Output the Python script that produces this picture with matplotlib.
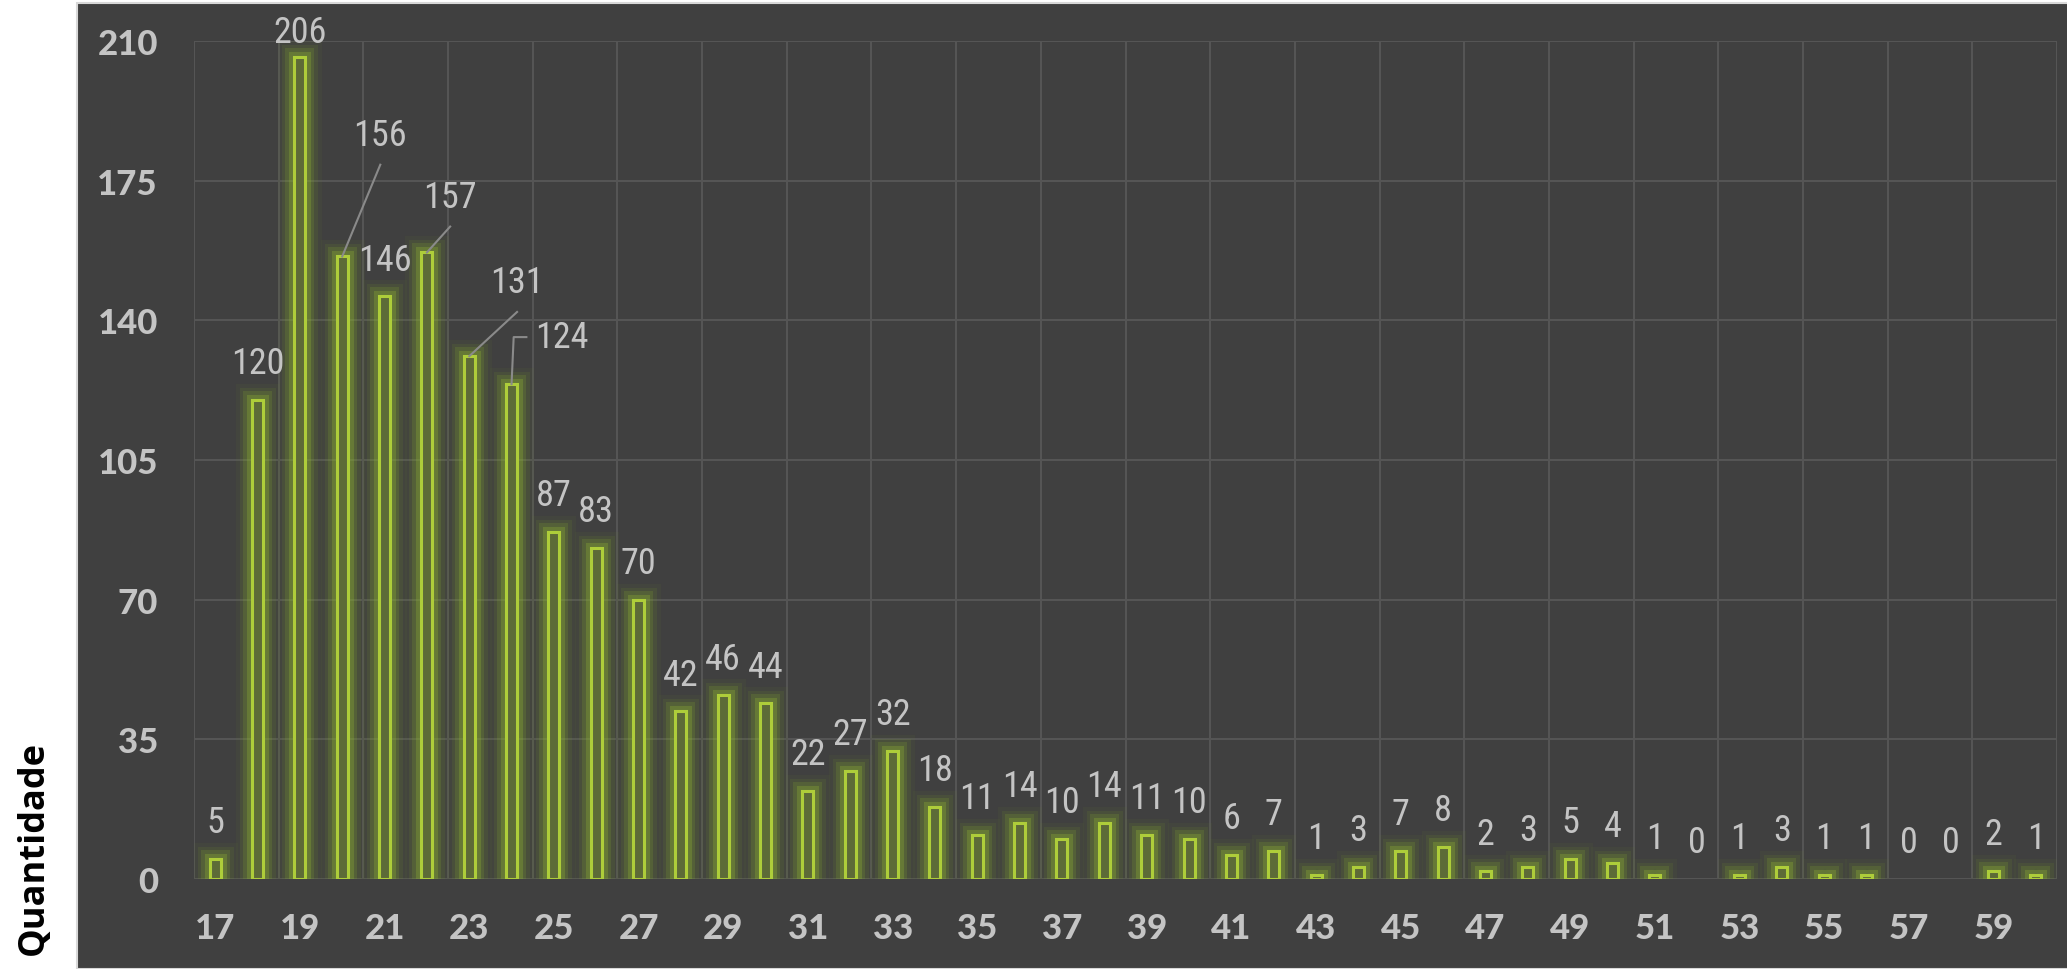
import matplotlib
matplotlib.use("Agg")
import matplotlib.pyplot as plt
import matplotlib.patheffects as pe
from matplotlib.patches import Rectangle
from matplotlib import font_manager
import numpy as np

# idade vs quantidade
ages = list(range(17, 61))
counts = [5, 120, 206, 156, 146, 157, 131, 124, 87, 83, 70, 42, 46, 44, 22, 27, 32, 18,
          11, 14, 10, 14, 11, 10, 6, 7, 1, 3, 7, 8, 2, 3, 5, 4, 1, 0, 1, 3, 1, 1, 0, 0, 2, 1]
y_ticks = [0, 35, 70, 105, 140, 175, 210]
x_ticks = list(range(17, 61, 2))

# labels that were moved off the bar, with leader lines: age -> (label x, label y)
moved = {20: (20.9, 186.5), 22: (22.55, 171.0), 23: (24.13, 149.6), 24: (25.2, 135.8)}

BG = '#404040'
GRID = '#555555'
TXT = '#c4c4c4'
EDGE = '#aecd3a'
FILL = '#5d6b37'


def pick(cands, min_weight=0):
    have = set(f.name for f in font_manager.fontManager.ttflist
               if min_weight == 0 or (isinstance(f.weight, int) and f.weight >= min_weight))
    out = [c for c in cands if c in have]
    return out[:1] + ['DejaVu Sans']


tick_font = pick(['Lato Black', 'Roboto Black', 'Lato', 'Roboto', 'Inter'], min_weight=900)
if tick_font == ['DejaVu Sans']:
    tick_font = pick(['Lato Black', 'Roboto Black', 'Lato', 'Roboto'])
lab_font = pick(['Roboto Condensed', 'Encode Sans Semi Condensed', 'Saira SemiCondensed',
                 'Sofia Sans Condensed', 'Liberation Sans Narrow'])
ylab_font = pick(['Open Sans', 'Noto Sans'])

fig = plt.figure(figsize=(20.67, 9.70), dpi=100)
fig.patch.set_facecolor('white')
fig.patches.append(Rectangle((77 / 2067, 0), 1, 966 / 970, transform=fig.transFigure,
                             facecolor=BG, edgecolor='#d8d8d8', linewidth=1.5, zorder=-10))

ax = fig.add_axes([194 / 2067, 1 - 880 / 970, 1863 / 2067, 838 / 970])
ax.patch.set_alpha(0)

glow = [pe.Stroke(linewidth=24, foreground='#6b8a26', alpha=0.07),
        pe.Stroke(linewidth=18, foreground='#769a2a', alpha=0.13),
        pe.Stroke(linewidth=13, foreground='#84a92e', alpha=0.2),
        pe.Stroke(linewidth=8, foreground='#90b433', alpha=0.3),
        pe.Normal()]

bars = ax.bar(ages, counts, width=0.26, color=FILL, edgecolor=EDGE, linewidth=2.2, zorder=3)
for b, c in zip(bars, counts):
    if c == 0:
        b.set_visible(False)
    b.set_path_effects(glow)

ax.set_xlim(16.5, 60.5)
ax.set_ylim(0, 210)
ax.set_yticks(y_ticks)
ax.set_xticks(x_ticks)
ax.grid(False)
for y in y_ticks:
    ax.axhline(y, color=GRID, linewidth=1.5, zorder=1)
for x in np.arange(16.5, 61, 2):
    ax.axvline(x, color=GRID, linewidth=1.5, zorder=1)

ax.tick_params(axis='both', which='both', length=0, colors=TXT)
ax.tick_params(axis='y', pad=26)
ax.tick_params(axis='x', pad=24)
for lab in ax.get_xticklabels() + ax.get_yticklabels():
    lab.set_fontfamily(tick_font)
    lab.set_fontweight(900)
    lab.set_fontsize(25)
    lab.set_color(TXT)
for s in ax.spines.values():
    s.set_visible(False)

for a, c in zip(ages, counts):
    if a in moved:
        lx, ly = moved[a]
        ax.text(lx, ly, str(c), ha='center', va='center', fontsize=26,
                family=lab_font, color=TXT, zorder=5)
        if a == 24:
            ax.plot([lx - 0.85, a + 0.05, a], [ly, ly, c], color='#8a8a8a', lw=1.5, zorder=4)
        else:
            ax.plot([lx, a], [ly - 7.5, c], color='#8a8a8a', lw=1.5, zorder=4)
        continue
    off = 26.5
    if c == 206:
        off = 18
    ax.annotate(str(c), (a, c), xytext=(0, off), textcoords='offset points',
                ha='center', va='center', fontsize=26, family=lab_font,
                color=TXT, zorder=5, annotation_clip=False)

fig.text(34 / 2067, 1 - 848 / 970, 'Quantidade', rotation=90, ha='center', va='center',
         fontsize=26, fontweight='bold', family=ylab_font, color='black')

fig.savefig('out.png', dpi=100, facecolor=fig.get_facecolor())
